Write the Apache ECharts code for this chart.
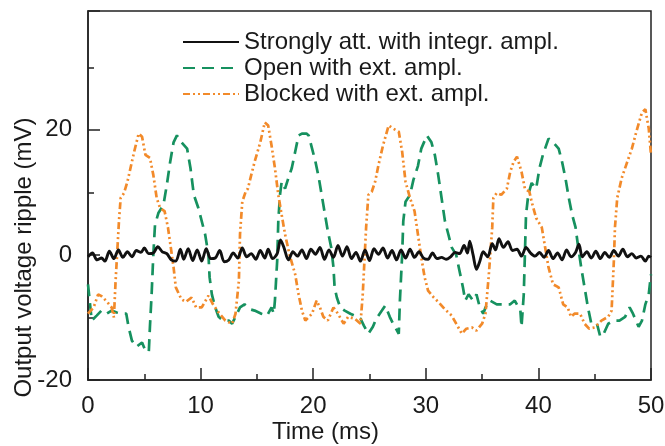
<!DOCTYPE html>
<html>
<head>
<meta charset="utf-8">
<script src="https://cdn.jsdelivr.net/npm/echarts@6/dist/echarts.min.js"></script>
<style>html,body{margin:0;padding:0;background:#fff;}#c{width:665px;height:446px;}</style>
</head>
<body>
<div id="c"></div>
<script>
const seriesNames = ['Strongly att. with integr. ampl.', 'Open with ext. ampl.', 'Blocked with ext. ampl.'];
const xTicks = [0, 10, 20, 30, 40, 50];
const yTickLabels = [-20, 0, 20];

const strongly = [[0,-0.3],[0.4,0.3],[0.8,-0.8],[1.2,-0.5],[1.5,-1],[1.9,0.6],[2.3,-0.6],[2.7,0.8],[3.1,-0.4],[3.5,0.5],[3.9,-0.3],[4.3,0.7],[4.7,0.4],[5.0,1.1],[5.4,0.2],[5.8,0.3],[6.2,1.3],[6.6,0.5],[7.0,0.2],[7.4,-0.8],[7.8,-1],[8.2,0.9],[8.5,-0.7],[8.9,1],[9.3,-0.9],[9.7,0.8],[10.1,-1],[10.5,1],[10.9,-0.6],[11.3,-0.5],[11.7,0.7],[12.1,-1.1],[12.5,-0.8],[12.9,0.3],[13.3,-0.5],[13.7,1.1],[14.1,-0.3],[14.5,0.2],[14.9,-0.7],[15.3,0.7],[15.7,-0.5],[16.0,0.9],[16.4,-0.6],[16.8,0.2],[17.1,2.4],[17.4,1.2],[17.8,-0.8],[18.2,0.5],[18.6,-0.2],[19.0,0.8],[19.4,-0.6],[19.8,0.9],[20.2,0.1],[20.6,1.2],[21.0,-0.7],[21.4,0.8],[21.8,-0.4],[22.2,1.5],[22.6,-0.2],[23.0,1.3],[23.4,-0.6],[23.8,0.4],[24.2,-1],[24.6,0.8],[25.0,-0.9],[25.4,1],[25.8,0.1],[26.2,1.1],[26.6,-0.5],[27.0,0.7],[27.4,-0.8],[27.8,0.8],[28.2,-0.5],[28.6,0.9],[29.0,-0.4],[29.4,0.5],[29.8,-0.5],[30.2,-0.7],[30.6,0.3],[31.0,-0.6],[31.4,-0.4],[31.8,-0.7],[32.2,-0.3],[32.6,0.4],[33.0,0.2],[33.4,1.5],[33.7,0.3],[33.9,2.2],[34.2,0],[34.5,-2.3],[34.8,-1],[35.1,0.5],[35.5,-0.3],[35.9,1.8],[36.2,0.8],[36.5,2.6],[36.9,1.2],[37.3,2.1],[37.7,0.7],[38.1,0.9],[38.5,-0.2],[38.9,1.2],[39.3,0.3],[39.7,-0.2],[40.1,0.4],[40.5,-0.4],[40.9,0.7],[41.3,-0.6],[41.7,0.3],[42.1,-0.8],[42.5,0.8],[42.9,-0.3],[43.3,0.4],[43.6,1.7],[43.9,-0.3],[44.3,0.5],[44.7,-0.5],[45.1,0.6],[45.5,-0.6],[45.9,0.4],[46.3,-0.4],[46.7,0.7],[47.1,-0.2],[47.5,0.9],[47.9,-0.3],[48.3,0.2],[48.7,-0.5],[49.1,-0.2],[49.5,-1],[49.8,-0.2],[50,-0.4]];

const open = [[0,-4.7],[0.33,-10.5],[0.77,-9.7],[1.2,-8.9],[1.66,-9.4],[2.1,-8.9],[2.55,-9.2],[3.0,-9.4],[3.4,-9.4],[3.6,-11.5],[3.9,-13.7],[4.3,-14.7],[4.8,-14],[5.1,-15.3],[5.4,-15.5],[5.5,-11.5],[5.65,-6.3],[5.8,0],[5.95,4.8],[6.25,6.7],[6.7,8],[7.0,11.2],[7.3,14.9],[7.6,18],[7.9,19.1],[8.3,18],[8.8,17],[9.1,13.9],[9.4,9.6],[9.8,7.5],[10.4,3.3],[10.7,0],[10.8,-3.6],[11,-6.3],[11.3,-8.4],[11.6,-9.9],[12,-10.5],[12.5,-10.5],[12.8,-11],[13.1,-9.9],[13.5,-8.4],[13.9,-7.9],[14.4,-8.7],[14.8,-8.9],[15.4,-9.4],[15.9,-9.7],[16.3,-8.4],[16.5,-9.4],[16.6,-7.3],[16.8,-1],[16.9,5.4],[17.05,9.6],[17.2,11.7],[17.5,10.6],[17.8,12.3],[18.1,13.9],[18.4,16.5],[18.7,19.1],[19,19.4],[19.4,19.4],[19.6,19.1],[19.9,17],[20.2,14.9],[20.5,12.3],[20.8,9.1],[21.1,5.9],[21.3,3.8],[21.6,1.2],[21.8,-2],[21.9,-5.2],[22.1,-6.8],[22.4,-8.4],[22.8,-8.9],[23.3,-9.4],[23.7,-9.7],[24.2,-10.2],[24.5,-11.3],[24.9,-12.6],[25.3,-11.5],[25.6,-10.2],[26.1,-8.9],[26.4,-8.1],[26.8,-9.9],[27.1,-11],[27.6,-12.6],[27.7,-7.3],[27.9,0],[28.0,5.4],[28.2,8.5],[28.6,9.6],[28.9,12],[29.3,14.2],[29.6,17],[30.1,19.1],[30.5,18],[30.8,16],[31.1,12.8],[31.4,9.1],[31.7,5.4],[32,3.3],[32.3,1.2],[32.7,0],[33,-2.6],[33.3,-5.2],[33.5,-7.3],[33.8,-6.3],[34.2,-7.3],[34.5,-6.3],[34.8,-8.4],[35.1,-9.4],[35.3,-8.4],[35.7,-7.3],[36.3,-7.9],[36.9,-7.9],[37.5,-7.9],[37.9,-7.3],[38.4,-8.9],[38.5,-11.5],[38.7,-6.3],[38.8,0],[38.9,6.4],[39.1,9.6],[39.4,11.5],[39.8,10.6],[40.1,13.9],[40.4,16],[40.9,18.6],[41.3,18],[41.8,17],[42.1,14.9],[42.4,12.3],[42.7,9.1],[43,6.4],[43.3,4.4],[43.5,1.7],[43.8,-2],[44.1,-5.2],[44.4,-8.4],[44.7,-11],[45.2,-11],[45.5,-13.1],[45.8,-12.6],[46.2,-11],[46.7,-10.5],[47.2,-10.5],[47.7,-9.9],[48.1,-8.4],[48.4,-9.4],[48.9,-11.5],[49.2,-10.5],[49.5,-7.9],[49.8,-6.3],[50,-3.1]];

const blocked = [[0,-9.4],[0.5,-8.4],[0.9,-6.3],[1.2,-6.6],[1.7,-7.5],[2.1,-8.4],[2.3,-10],[2.45,-4.2],[2.75,5.4],[2.9,9.1],[3.2,9.9],[3.5,11.7],[3.8,14.1],[4.1,16.5],[4.5,19.4],[4.8,18.9],[5.1,16],[5.5,15.5],[5.8,12.8],[6.1,9.1],[6.4,7.5],[6.8,7],[7.1,4.4],[7.4,0.6],[7.6,-2],[7.8,-5.2],[8.3,-7.1],[8.7,-7.5],[9.2,-6.8],[9.6,-8.4],[10.1,-8.4],[10.7,-6.5],[11.1,-7.9],[11.6,-9.2],[12.2,-10.5],[12.8,-11],[13.1,-9.4],[13.4,-4.2],[13.5,3.3],[13.7,8.5],[14,10.1],[14.2,10.6],[14.5,12.8],[14.8,14.9],[15.3,18],[15.7,21.2],[16,20.7],[16.3,17.5],[16.6,13.9],[16.9,9.6],[17.2,6.4],[17.5,3.3],[17.9,0],[18.4,-3.1],[18.7,-6.3],[19,-8.9],[19.3,-10.5],[19.9,-9.4],[20.3,-7.3],[20.6,-8.4],[20.9,-9.9],[21.3,-10.5],[21.8,-8.4],[22.2,-9.4],[22.7,-11],[23.1,-9.9],[23.7,-10.2],[24.2,-11],[24.4,-6.3],[24.7,4.4],[24.9,9.6],[25.2,10.1],[25.5,11.7],[25.8,14.4],[26.2,17.5],[26.7,20.7],[27.1,20.2],[27.6,19.7],[27.9,16.5],[28.2,11.7],[28.6,9.1],[29.0,7],[29.3,3.3],[29.6,-0.4],[29.9,-3.6],[30.2,-5.7],[30.7,-6.8],[31.1,-7.5],[31.7,-8.7],[32.3,-9.7],[32.7,-11],[33.2,-12.6],[33.6,-11.8],[34.1,-11.6],[34.5,-12.1],[35,-11],[35.3,-9.4],[35.6,-3.1],[35.9,4.4],[36.0,9.1],[36.3,9.9],[36.7,9.6],[37.2,10.6],[37.5,13.3],[37.8,14.9],[38.1,15.7],[38.5,13.3],[38.8,10.6],[39.2,10.1],[39.4,8.5],[39.8,5.9],[40.3,4.4],[40.6,1.2],[40.9,-2],[41.3,-4.7],[41.8,-5.2],[42.2,-7.9],[42.6,-8.4],[42.9,-9.9],[43.2,-9.4],[43.7,-9.4],[44.1,-11],[44.5,-11.8],[45,-11.6],[45.6,-10.5],[46.2,-9.9],[46.5,-8.9],[46.7,-1],[46.8,4.4],[47.0,9.1],[47.4,12.3],[47.8,14.4],[48.3,17],[48.7,19.7],[49.2,22.8],[49.5,23.3],[49.8,20.2],[50,16]];

const FONT = "'Liberation Sans', Arial, sans-serif";
const FS = 24;
const TXT = '#1a1a1a';
const chart = echarts.init(document.getElementById('c'), null, {renderer: 'canvas'});
chart.setOption({
  animation: false,
  backgroundColor: '#fff',
  grid: {left: 88, right: 14, top: 11, bottom: 66, show: true, borderColor: '#222', borderWidth: 1.5,
    backgroundColor: 'transparent', containLabel: false, outerBoundsMode: 'none'},
  legend: {
    orient: 'vertical', left: 177, top: 25,
    itemWidth: 56, itemHeight: 14, itemGap: 2,
    data: seriesNames,
    itemStyle: {opacity: 0},
    textStyle: {fontFamily: FONT, fontSize: FS, color: TXT},
    selectedMode: false
  },
  xAxis: {
    type: 'value', min: xTicks[0], max: xTicks[xTicks.length - 1], interval: 10,
    name: 'Time (ms)', nameLocation: 'middle', nameGap: 40, nameMoveOverlap: false,
    nameTextStyle: {fontFamily: FONT, fontSize: FS, color: TXT, padding: [0, 88, 0, 0]},
    axisLine: {show: true, onZero: false, lineStyle: {color: '#222', width: 1.5}},
    axisTick: {show: true, inside: true, length: 12, lineStyle: {color: '#222', width: 1.5}},
    minorTick: {show: true, splitNumber: 2, length: 6, lineStyle: {color: '#222', width: 1.5}},
    splitLine: {show: false},
    axisLabel: {fontFamily: FONT, fontSize: FS, color: TXT, margin: 14}
  },
  yAxis: [{
    type: 'value', min: -20, max: 39, interval: 10,
    name: 'Output voltage ripple (mV)', nameLocation: 'middle', nameGap: 52, nameMoveOverlap: false,
    nameTextStyle: {fontFamily: FONT, fontSize: FS, color: TXT, padding: [0, 124, 0, 0]},
    axisLine: {show: true, onZero: false, lineStyle: {color: '#222', width: 1.5}},
    axisTick: {show: true, inside: true, length: 6, lineStyle: {color: '#222', width: 1.5}},
    splitLine: {show: false},
    axisLabel: {fontFamily: FONT, fontSize: FS, color: TXT, margin: 16,
      formatter: v => yTickLabels.indexOf(v) >= 0 ? String(v) : ''}
  }, {
    type: 'value', min: -20, max: 39, interval: 20, position: 'left', offset: 0,
    axisLine: {show: false, onZero: false},
    axisTick: {show: true, inside: true, length: 12, lineStyle: {color: '#222', width: 1.5}},
    splitLine: {show: false},
    axisLabel: {show: false}
  }],
  series: [
    {name: seriesNames[1], type: 'line', data: open, symbol: 'none', z: 2,
      lineStyle: {color: '#16915f', width: 2.7, type: [12, 7]}, itemStyle: {color: '#16915f'}},
    {name: seriesNames[2], type: 'line', data: blocked, symbol: 'none', z: 3,
      lineStyle: {color: '#f28a2a', width: 2.7, type: [7, 3, 2, 3, 2, 3]}, itemStyle: {color: '#f28a2a'}},
    {name: seriesNames[0], type: 'line', data: strongly, symbol: 'none', z: 4, smooth: 0.3,
      lineStyle: {color: '#111', width: 2.9}, itemStyle: {color: '#111'}}
  ]
});
</script>
</body>
</html>
